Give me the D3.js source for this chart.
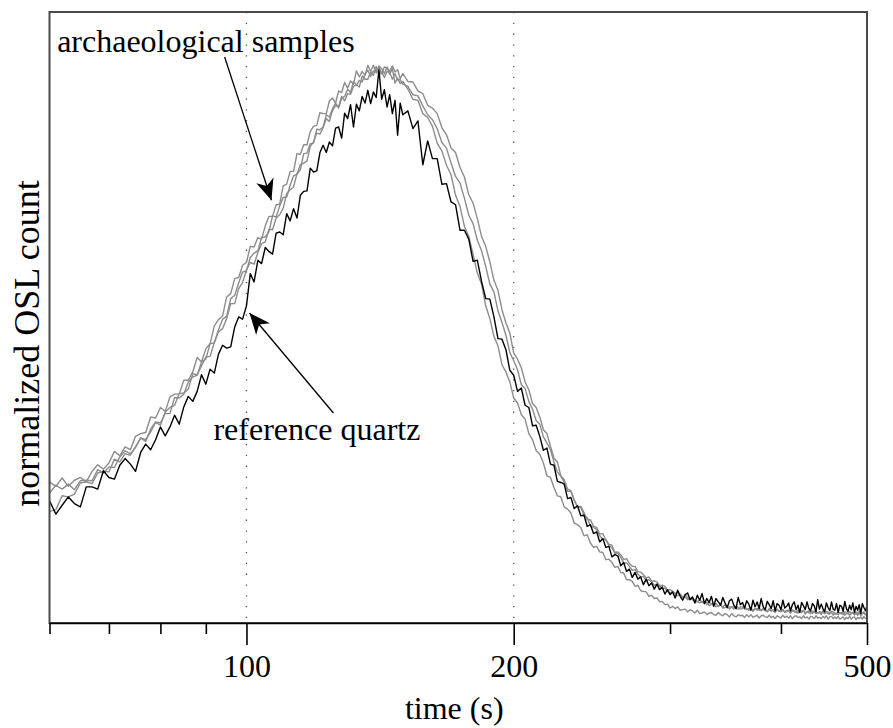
<!DOCTYPE html>
<html>
<head>
<meta charset="utf-8">
<script src="https://cdn.jsdelivr.net/npm/d3@7"></script>
<style>
  body { margin: 0; background: #fff; }
  svg { display: block; }
</style>
</head>
<body>
<svg id="chart" width="893" height="728"></svg>
<script>
// channel times (s): 1 s steps up to 150 s, then every 2nd channel
const time = d3.range(60, 151, 1).concat(d3.range(152, 501, 2));

// normalized OSL count (peak ~1000)
const refQuartz = [
  220,196,212,227,215,209,245,245,241,274,
  262,259,284,296,286,273,307,322,312,330,
  353,337,353,374,358,389,408,399,417,447,
  430,457,450,484,500,495,497,533,551,547,
  571,629,614,653,647,676,669,664,702,704,
  699,737,724,746,729,770,777,778,819,812,
  814,847,860,847,866,859,891,893,873,918,
  908,933,893,934,922,948,936,959,935,956,
  946,996,943,960,929,951,917,941,878,936,915,
  922,890,904,825,868,836,836,790,791,758,
  753,707,707,691,651,653,615,584,583,551,
  512,511,492,455,446,417,423,392,388,355,
  356,336,311,315,286,284,255,253,250,224,
  226,206,211,193,194,174,177,161,164,146,
  152,136,138,119,123,121,103,109,93,97,
  82,91,79,83,69,79,67,72,61,70,
  60,65,52,60,51,
  56,45,59,48,41,51,54,42,47,36,
  50,41,53,35,44,37,48,30,44,38,
  32,46,36,28,40,43,32,26,46,33,
  37,27,40,34,23,41,29,38,26,44,
  29,24,39,33,26,40,22,35,32,24,
  41,27,30,36,22,33,38,24,32,19,
  37,31,24,38,26,22,35,31,20,42,
  25,34,26,20,36,28,22,38,25,23,
  35,19,32,30,21,39,26,21,32,24,
  36,19,30,23,33,17,35,28,22,31
];

const sampleA = [
  254,246,261,246,257,262,254,273,285,277,
  288,309,301,317,312,336,341,343,371,369,
  388,381,407,412,412,437,437,452,478,470,
  494,503,535,546,553,587,593,620,622,644,
  649,678,677,694,691,715,732,732,753,754,
  787,790,813,813,845,844,861,861,885,894,
  896,919,917,917,940,945,936,958,955,973,
  963,976,970,994,983,993,986,1004,993,1004,
  990,1003,998,989,1001,988,998,972,981,971,975,
  961,943,941,917,910,894,864,850,824,807,
  770,750,714,696,664,630,610,571,548,516,
  499,465,452,434,405,396,375,367,341,330,
  310,304,288,265,262,244,229,227,209,205,
  198,180,177,172,157,159,144,136,138,128,
  127,114,115,109,100,102,91,90,78,78,
  75,66,68,58,57,56,48,50,44,45,
  38,39,33,34,27,
  30,26,29,23,24,25,20,24,22,18,
  23,17,18,20,15,18,19,15,14,19,
  15,13,17,15,11,17,13,11,15,13,
  14,10,15,11,15,10,12,14,9,13,
  14,11,10,14,10,12,8,13,11,9,
  14,10,12,9,13,8,12,13,10,11,
  8,13,9,11,7,12,11,8,13,9,
  10,8,12,9,13,7,11,12,8,11,
  8,12,7,9,11,6,10,8,12,7,
  10,11,6,10,8,11,7,12,8,9
];

const sampleB = [
  234,248,241,250,240,256,257,256,276,270,
  281,280,299,310,305,316,333,327,349,362,
  360,377,377,406,405,412,434,443,446,470,
  475,503,504,528,547,552,584,590,612,632,
  634,658,666,670,694,695,704,733,731,751,
  766,767,788,805,808,816,845,846,863,864,
  889,888,893,915,911,926,936,927,945,948,
  961,955,975,968,977,974,988,995,984,994,
  992,1002,989,1001,999,993,1003,992,996,980,989,
  975,974,958,953,932,927,917,892,879,855,
  847,820,803,771,756,728,696,678,650,617,
  599,564,540,522,486,475,459,434,420,395,
  388,371,348,341,318,297,290,265,258,241,
  238,221,209,210,199,186,186,174,172,160,
  161,149,142,140,127,128,123,114,116,107,
  102,102,92,92,87,81,83,75,76,74,
  67,68,66,59,60,
  57,53,55,52,46,51,45,42,45,41,
  38,42,37,38,33,37,35,31,35,30,
  33,29,33,27,29,29,25,30,28,25,
  26,29,24,26,27,22,26,23,27,22,
  26,22,21,26,22,23,19,24,22,20,
  25,19,20,23,18,22,22,19,18,23,
  21,22,16,20,18,21,17,22,17,18,
  19,15,20,17,21,16,18,19,14,18,
  17,15,19,16,20,14,17,18,14,17,
  19,15,17,14,18,13,17,18,15,16
];

const sampleC = [
  201,204,229,227,232,252,254,251,270,273,
  272,295,290,305,302,317,333,330,344,361,
  356,380,388,392,413,414,421,449,447,463,
  479,480,505,524,530,548,575,575,602,613,
  636,649,646,667,683,686,709,708,729,735,
  747,773,780,785,809,825,828,832,858,866,
  882,880,892,908,903,923,931,930,948,940,
  953,952,966,969,965,985,979,979,992,986,
  1002,986,992,982,993,991,979,989,978,978,970,
  966,951,949,931,915,906,890,865,855,828,
  804,792,765,734,719,689,670,642,610,596,
  562,541,518,487,472,456,429,422,399,385,
  364,358,335,324,312,290,272,264,253,237,
  237,221,209,208,194,190,175,172,168,157,
  150,151,139,136,125,126,118,108,108,102,
  95,96,88,83,84,76,78,74,68,70,
  67,61,63,57,54,
  57,52,49,52,47,47,42,45,42,38,
  39,36,39,35,38,31,34,34,29,31,
  33,27,28,30,25,29,29,26,25,29,
  29,25,26,23,27,21,25,26,23,23,
  24,25,20,24,21,24,20,25,21,22,
  22,20,23,22,18,24,20,19,23,20,
  19,23,18,20,22,17,21,19,22,17,
  21,18,22,17,19,20,16,21,20,16,
  16,21,17,19,15,20,19,16,21,17,
  19,15,20,17,21,16,18,20,15,19
];

const majorTicks = [100, 200, 500];
const minorTicks = [60, 70, 80, 90, 300, 400];
const guideTimes = [100, 200];
const xTitle = "time (s)";
const yTitle = "normalized OSL count";

// annotation text anchors and arrows, in data coordinates (time, count)
const notes = [
  { text: "archaeological samples", t: 61.2, v: 1028, from: [94.5, 1019], to: [106.7, 761] },
  { text: "reference quartz", t: 91.8, v: 329, from: [125.3, 378], to: [100.8, 558] }
];

const plot = { left: 49.5, right: 867, top: 12, bottom: 623 };
const serif = "'Liberation Serif', 'Times New Roman', serif";

const x = d3.scaleLog().domain([60, 500]).range([plot.left, plot.right]);
const y = d3.scaleLinear().domain([0, 1100]).range([plot.bottom, plot.top]);

const svg = d3.select("#chart");
const defs = svg.append("defs");

defs.append("clipPath").attr("id", "clip")
  .append("rect")
  .attr("x", plot.left).attr("y", plot.top)
  .attr("width", plot.right - plot.left).attr("height", plot.bottom - plot.top);

defs.append("marker")
  .attr("id", "head")
  .attr("markerUnits", "userSpaceOnUse")
  .attr("viewBox", "-22 -10 24 20")
  .attr("refX", 0).attr("refY", 0)
  .attr("markerWidth", 24).attr("markerHeight", 20)
  .attr("orient", "auto")
  .append("path")
  .attr("d", "M0,0 L-21,-9 L-15,0 L-21,9 Z")
  .attr("fill", "#000");

// dotted guides at 100 s and 200 s
svg.append("g").selectAll("line")
  .data(guideTimes)
  .enter().append("line")
  .attr("x1", d => x(d)).attr("x2", d => x(d))
  .attr("y1", plot.top).attr("y2", plot.bottom)
  .attr("stroke", "#555")
  .attr("stroke-width", 1.3)
  .attr("stroke-dasharray", "1.3,9.5");

const line = d3.line()
  .defined(d => d[1] != null)
  .x(d => x(d[0]))
  .y(d => y(d[1]));

const series = [
  { values: sampleA, color: "#8c8c8c" },
  { values: sampleB, color: "#8c8c8c" },
  { values: sampleC, color: "#8c8c8c" },
  { values: refQuartz, color: "#000" }
];

svg.append("g").attr("clip-path", "url(#clip)")
  .selectAll("path")
  .data(series)
  .enter().append("path")
  .attr("d", s => line(time.map((t, i) => [t, s.values[i]])))
  .attr("fill", "none")
  .attr("stroke", s => s.color)
  .attr("stroke-width", 1.4)
  .attr("stroke-linejoin", "round");

// frame
svg.append("rect")
  .attr("x", plot.left).attr("y", plot.top)
  .attr("width", plot.right - plot.left).attr("height", plot.bottom - plot.top)
  .attr("fill", "none")
  .attr("stroke", "#4a4a4a")
  .attr("stroke-width", 2);

// x axis: minor ticks, then major ticks with labels
let minorAxis = svg.append("g")
  .attr("transform", `translate(0,${plot.bottom})`)
  .call(d3.axisBottom(x).tickValues(minorTicks).tickSize(11).tickSizeOuter(0).tickFormat(""));
minorAxis.select(".domain").remove();

let majorAxis = svg.append("g")
  .attr("transform", `translate(0,${plot.bottom})`)
  .call(d3.axisBottom(x).tickValues(majorTicks).tickSize(22).tickSizeOuter(0)
    .tickPadding(9).tickFormat(d3.format("d")));
majorAxis.attr("font-family", serif).attr("font-size", 32);
majorAxis.select(".domain").attr("stroke", "#000").attr("stroke-width", 1.6);
majorAxis.selectAll("text").attr("fill", "#000");

svg.selectAll(".tick line").attr("stroke", "#000").attr("stroke-width", 1.6);

// axis titles
svg.append("text")
  .attr("x", (plot.left + plot.right) / 2 - 4)
  .attr("y", 719)
  .attr("text-anchor", "middle")
  .attr("font-family", serif).attr("font-size", 32)
  .text(xTitle);

svg.append("text")
  .attr("transform", `translate(39,${(plot.top + plot.bottom) / 2 + 26}) rotate(-90)`)
  .attr("text-anchor", "middle")
  .attr("font-family", serif).attr("font-size", 36)
  .text(yTitle);

// annotations
const ann = svg.append("g");
ann.selectAll("line")
  .data(notes)
  .enter().append("line")
  .attr("x1", d => x(d.from[0])).attr("y1", d => y(d.from[1]))
  .attr("x2", d => x(d.to[0])).attr("y2", d => y(d.to[1]))
  .attr("stroke", "#000")
  .attr("stroke-width", 1.3)
  .attr("marker-end", "url(#head)");

ann.selectAll("text")
  .data(notes)
  .enter().append("text")
  .attr("x", d => x(d.t)).attr("y", d => y(d.v))
  .attr("font-family", serif).attr("font-size", 32)
  .attr("fill", "#000")
  .text(d => d.text);
</script>
</body>
</html>
